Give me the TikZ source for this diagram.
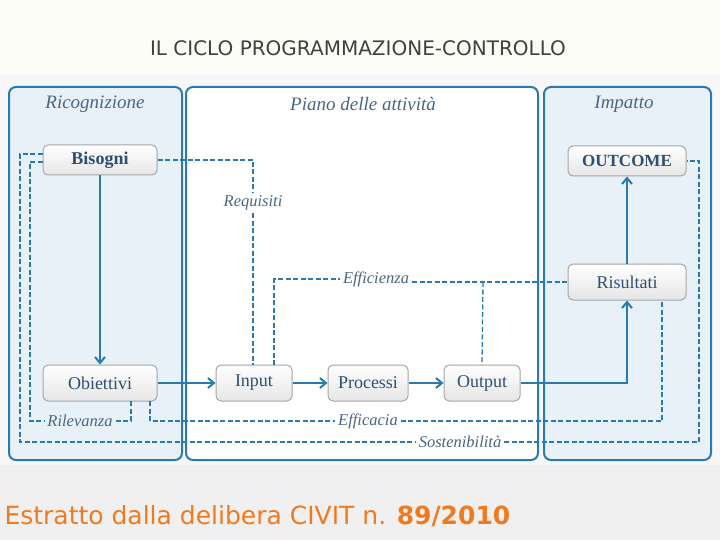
\documentclass[tikz,border=0pt]{standalone}
\usepackage{fontspec}
\setmainfont{Liberation Serif}
\newfontfamily\dv{DejaVu Sans}
\usetikzlibrary{arrows.meta,calc}
\definecolor{cblue}{HTML}{2A7AB0}
\definecolor{lblue}{HTML}{E8F1F8}
\definecolor{ttl}{HTML}{4A6585}
\definecolor{nodetxt}{HTML}{2E4F73}
\definecolor{orng}{HTML}{F07A1E}
\definecolor{topbg}{HTML}{FDFDF7}
\tikzset{
  panel/.style={draw=cblue,line width=2pt,rounded corners=7pt},
  ptitle/.style={font=\itshape\fontsize{19}{22}\selectfont,text=ttl},
  box/.style={draw=gray!70,line width=1pt,rounded corners=5pt,top color=white,bottom color=gray!20,
     minimum width=#1,minimum height=36pt,font=\fontsize{18}{20}\selectfont,text=nodetxt,inner sep=0pt},
  sarr/.style={draw=cblue,line width=2pt,-{Straight Barb[length=6pt,width=10pt]}},
  dsh/.style={draw=cblue,line width=1.3pt,dash pattern=on 5pt off 2.5pt},
  lab/.style={font=\itshape\fontsize{16.5}{18}\selectfont,text=ttl,inner sep=3pt},
}
\begin{document}
\begin{tikzpicture}[x=1pt,y=-1pt]
\useasboundingbox (0,0) rectangle (720,540);
\fill[topbg] (0,0) rectangle (720,75);
\fill[gray!6] (0,75) rectangle (720,465);
\fill[gray!12] (0,465) rectangle (720,540);
\node[font=\dv\fontsize{20}{24}\selectfont,text=black!75] (title) at (358,48) {IL CICLO PROGRAMMAZIONE-CONTROLLO};
\draw[panel,fill=lblue] (9,87) rectangle (182,460);
\draw[panel,fill=white] (186,87) rectangle (538,460);
\draw[panel,fill=lblue] (544,87) rectangle (711,460);
\node[ptitle] (t1) at (95,104) {Ricognizione};
\node[ptitle] (t2) at (363,104) {Piano delle attività};
\node[ptitle] (t3) at (624,104) {Impatto};
% nodes
\node[box=114pt,minimum height=30pt,font=\bfseries\fontsize{18}{20}\selectfont] (bis) at (100,160) {Bisogni};
\node[box=114pt] (obi) at (100,383) {Obiettivi};
\node[box=76pt] (inp) at (254,383) {Input};
\node[box=80pt] (pro) at (368,383) {Processi};
\node[box=76pt] (out) at (482,383) {Output};
\node[box=118pt,minimum height=30pt,font=\bfseries\fontsize{17}{20}\selectfont] (outc) at (627,161) {OUTCOME};
\node[box=118pt] (ris) at (627,282) {Risultati};
% labels
\node[lab] (req) at (253,203) {Requisiti};
\node[lab] (eff) at (376,279) {Efficienza};
\node[lab] (ril) at (80,421) {Rilevanza};
\node[lab] (efc) at (368,421) {Efficacia};
\node[lab] (sos) at (460,442) {Sostenibilità};
% solid arrows
\draw[sarr] (bis) -- (obi);
\draw[sarr] (obi) -- (inp);
\draw[sarr] (inp) -- (pro);
\draw[sarr] (pro) -- (out);
\draw[sarr] (out.east) -| (ris.south);
\draw[sarr] (ris) -- (outc);
% dashed
\draw[dsh] (bis.east) -| (req.north);
\draw[dsh] (req.south) -- (req.south |- inp.north);
\draw[dsh] ($(bis.west)+(0,-6)$) -| (20,442) -- (sos.west);
\draw[dsh] (sos.east) -- (699,442) |- (outc.east);
\draw[dsh] ($(bis.west)+(0,2)$) -| (30,421) -- (ril.west);
\draw[dsh] (ril.east) -| (131,401);
\draw[dsh] (150,401) |- (efc.west);
\draw[dsh] (efc.east) -| (662,300);
\draw[dsh] (274,365) |- (eff.west);
\draw[dsh] (eff.east |- ris.west) -- (ris.west);
\draw[dsh] (483,282) -- (out.north);
\node[anchor=west,font=\dv\fontsize{25}{28}\selectfont,text=orng] (src) at (1,516) {Estratto dalla delibera CIVIT n. \textbf{89/2010}};
\end{tikzpicture}
\end{document}
